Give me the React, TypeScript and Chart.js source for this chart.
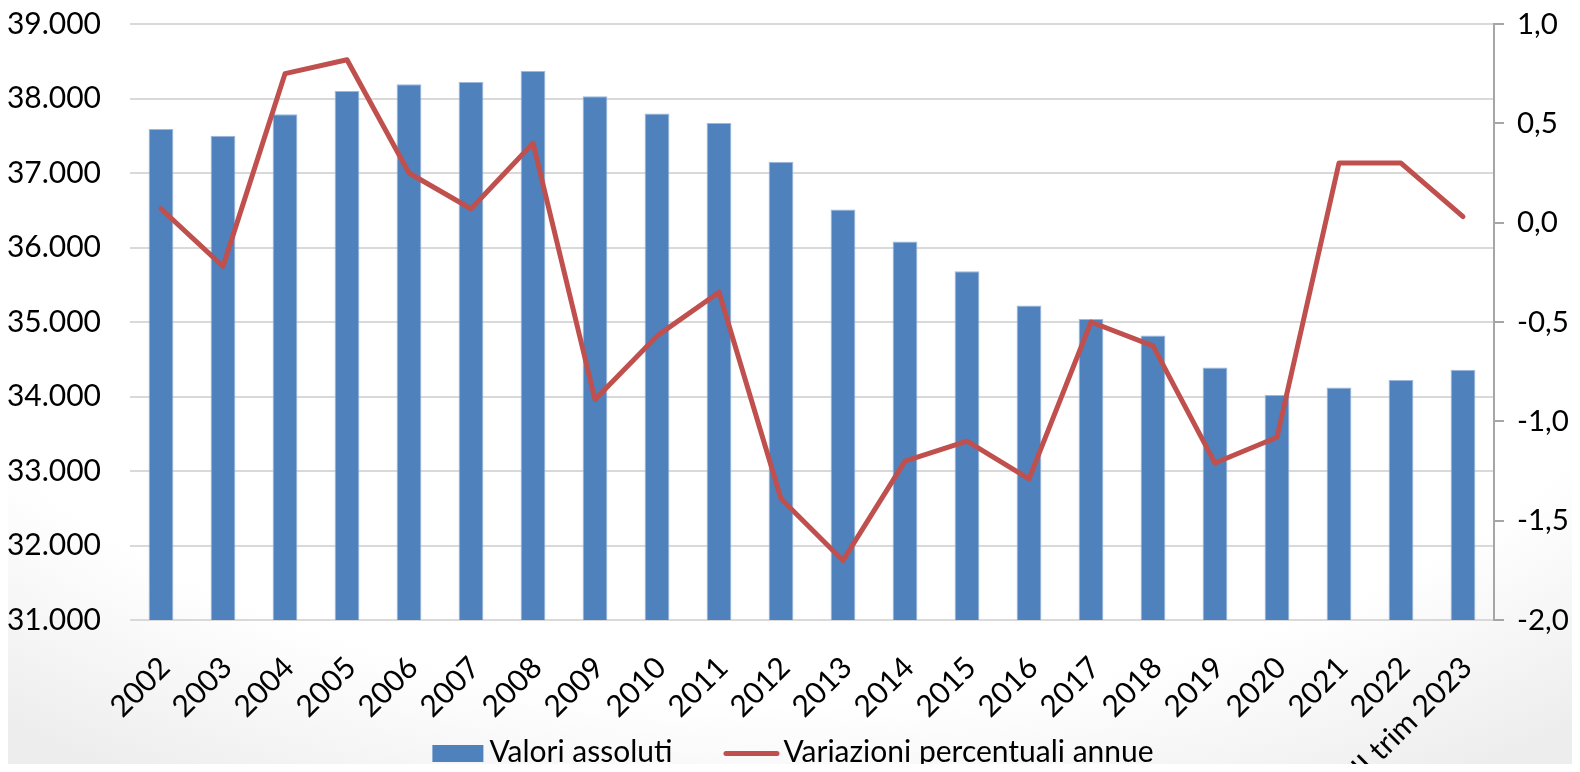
import React, { useEffect, useRef } from 'react';
import { Chart, registerables } from 'chart.js';

Chart.register(...registerables);

const categories = [
  '2002', '2003', '2004', '2005', '2006', '2007', '2008', '2009', '2010', '2011', '2012',
  '2013', '2014', '2015', '2016', '2017', '2018', '2019', '2020', '2021', '2022', 'III trim 2023',
];

const valoriAssoluti = [
  37590, 37500, 37790, 38100, 38190, 38220, 38370, 38030, 37800, 37670, 37150,
  36510, 36080, 35680, 35220, 35040, 34820, 34390, 34020, 34120, 34220, 34360,
];

const variazioniPercentuali = [
  0.07, -0.22, 0.75, 0.82, 0.25, 0.07, 0.4, -0.89, -0.57, -0.35, -1.39,
  -1.7, -1.2, -1.1, -1.29, -0.5, -0.62, -1.21, -1.08, 0.3, 0.3, 0.03,
];

const seriesNames = ['Valori assoluti', 'Variazioni percentuali annue'];

const leftMin = 31000;
const leftMax = 39000;
const leftStep = 1000;
const rightMin = -2;
const rightMax = 1;
const rightStep = 0.5;

const fmtThousands = (v: number) => String(Math.round(v)).replace(/\B(?=(\d{3})+(?!\d))/g, '.');
const fmtDecimal = (v: number) => Number(v).toFixed(1).replace('.', ',');

const FONT = 'Lato, "Open Sans", sans-serif';

const bottomLegend = {
  id: 'bottomLegend',
  afterDraw(chart: any) {
    const ctx = chart.ctx;
    const ds = chart.data.datasets;
    ctx.save();
    ctx.font = `30px ${FONT}`;
    ctx.textBaseline = 'alphabetic';
    ctx.textAlign = 'left';
    const boxW = 51;
    const boxH = 17;
    const lineW = 56;
    const gapBox = 6;
    const gapLine = 4;
    const gapItem = 51;
    const w1 = ctx.measureText(ds[0].label).width;
    const w2 = ctx.measureText(ds[1].label).width;
    const total = boxW + gapBox + w1 + gapItem + lineW + gapLine + w2;
    let x = (chart.width - total) / 2 + 3;
    const baseY = chart.height - 10;
    const midY = baseY - 8.5;
    ctx.fillStyle = ds[0].backgroundColor;
    ctx.fillRect(x, midY - boxH / 2, boxW, boxH);
    x += boxW + gapBox;
    ctx.fillStyle = '#000';
    ctx.fillText(ds[0].label, x, baseY);
    x += w1 + gapItem;
    ctx.strokeStyle = ds[1].borderColor;
    ctx.lineWidth = 5;
    ctx.lineCap = 'round';
    ctx.beginPath();
    ctx.moveTo(x + 2.5, midY);
    ctx.lineTo(x + lineW - 2.5, midY);
    ctx.stroke();
    x += lineW + gapLine;
    ctx.fillStyle = '#000';
    ctx.fillText(ds[1].label, x, baseY);
    ctx.restore();
  },
};

export default function App() {
  const canvasRef = useRef<HTMLCanvasElement | null>(null);

  useEffect(() => {
    if (!canvasRef.current) return;
    const chart = new Chart(canvasRef.current, {
      type: 'bar',
      data: {
        labels: categories,
        datasets: [
          {
            type: 'bar',
            label: seriesNames[0],
            data: valoriAssoluti,
            yAxisID: 'y',
            backgroundColor: '#4F81BD',
            borderColor: '#9DB8DC',
            borderWidth: 1,
            categoryPercentage: 0.8,
            barPercentage: 0.5,
            order: 2,
          } as any,
          {
            type: 'line',
            label: seriesNames[1],
            data: variazioniPercentuali,
            yAxisID: 'y1',
            borderColor: '#C0504D',
            backgroundColor: '#C0504D',
            borderWidth: 5,
            pointRadius: 0,
            pointHoverRadius: 0,
            tension: 0,
            borderCapStyle: 'round',
            borderJoinStyle: 'round',
            order: 1,
          } as any,
        ],
      },
      plugins: [bottomLegend],
      options: {
        responsive: true,
        maintainAspectRatio: false,
        animation: false,
        devicePixelRatio: 1,
        layout: { padding: { left: 0, right: 0, top: 16, bottom: 0 } },
        plugins: {
          legend: { display: false },
          tooltip: { enabled: false },
        },
        scales: {
          x: {
            grid: { display: false, drawTicks: false },
            border: { display: false },
            ticks: {
              autoSkip: false,
              maxRotation: 45,
              minRotation: 45,
              padding: 30,
              labelOffset: 4,
              color: '#000',
              font: { family: FONT, size: 30 },
            },
            afterFit: (s: any) => {
              s.height = 152;
              s.paddingLeft = 0;
              s.paddingRight = 0;
            },
          },
          y: {
            position: 'left',
            min: leftMin,
            max: leftMax,
            ticks: {
              stepSize: leftStep,
              padding: 29,
              color: '#000',
              font: { family: FONT, size: 30 },
              callback: (v: any) => fmtThousands(Number(v)),
            },
            grid: { color: '#d9d9d9', lineWidth: 2, drawTicks: false },
            border: { display: false },
            afterFit: (s: any) => {
              s.width = 122;
              s.paddingTop = 0;
              s.paddingBottom = 0;
            },
          },
          y1: {
            position: 'right',
            min: rightMin,
            max: rightMax,
            ticks: {
              stepSize: rightStep,
              padding: 13,
              color: '#000',
              font: { family: FONT, size: 29.5 },
              callback: (v: any) => fmtDecimal(Number(v)),
            },
            grid: { drawOnChartArea: false, color: '#a6a6a6', lineWidth: 2, tickLength: 10 },
            border: { display: true, color: '#a6a6a6', width: 2 },
            afterFit: (s: any) => {
              s.width = 78;
              s.paddingTop = 0;
              s.paddingBottom = 0;
            },
          },
        },
      } as any,
    });
    return () => chart.destroy();
  }, []);

  return (
    <div
      style={{
        width: 1564,
        height: 764,
        marginBottom: -8,
        position: 'relative',
        background: 'radial-gradient(ellipse 80% 95% at 50% 20%, #ffffff 75%, #ededed 100%)',
      }}
    >
      <canvas ref={canvasRef} />
    </div>
  );
}
